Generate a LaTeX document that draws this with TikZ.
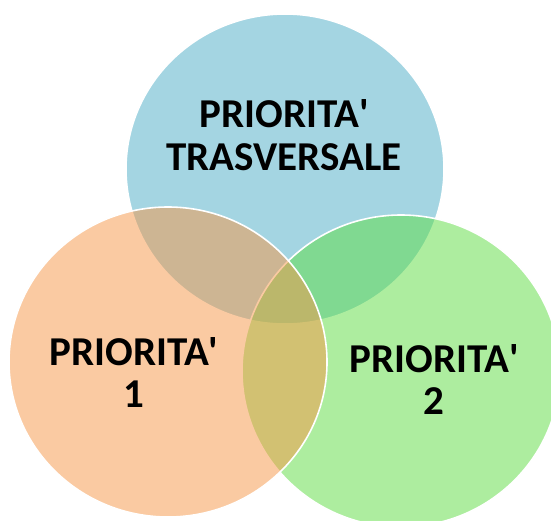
\documentclass[tikz,border=0pt]{standalone}
\usepackage{fontspec}
\setmainfont{Carlito}
\definecolor{cblue}{HTML}{4BACC6}
\definecolor{corange}{HTML}{F79646}
\definecolor{cgreen}{HTML}{5DDD41}
\newcommand{\apos}{\textquotesingle}
\begin{document}
\begin{tikzpicture}[x=1pt,y=-1pt,
  venn/.style={fill opacity=0.5, draw=white, line width=1.6pt},
  lbl/.style={font=\fontsize{41}{43}\selectfont\bfseries, text=black, anchor=base, inner sep=0pt}]
\useasboundingbox (0,0) rectangle (551,520);
\fill[white] (0,0) rectangle (551,520);
\begin{scope}
\clip (0,0) rectangle (551,520);
\draw[venn, fill=cblue] (285,169) ellipse [x radius=159, y radius=155];
\draw[venn, fill=cgreen] (401,371) ellipse [x radius=159, y radius=156];
\draw[venn, fill=corange] (168,362) ellipse [x radius=159, y radius=155];
\end{scope}
\node[lbl] (t1) at (284,127) {PRIORITA\apos};
\node[lbl] (t2) at (284,170) {TRASVERSALE};
\node[lbl] (l1) at (134,365) {PRIORITA\apos};
\node[lbl] (l2) at (134,407) {1};
\node[lbl] (r1) at (434,372) {PRIORITA\apos};
\node[lbl] (r2) at (434,414) {2};
\end{tikzpicture}
\end{document}
